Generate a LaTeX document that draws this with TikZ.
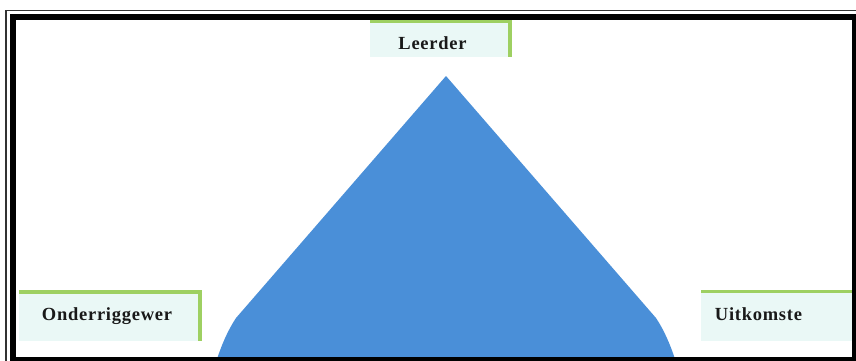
\documentclass[tikz,border=0pt]{standalone}
\usepackage{fontspec}
\newfontfamily\lblfont[LetterSpace=4]{Liberation Serif}
\definecolor{triblue}{RGB}{74,143,216}
\definecolor{boxfill}{RGB}{234,248,246}
\definecolor{boxgreen}{RGB}{158,208,98}
\tikzset{
  lbltext/.style={inner sep=0pt, font=\lblfont\bfseries\fontsize{18.5}{20}\selectfont, text=black!90},
  boxbg/.style={fill=boxfill, draw=none},
  greenline/.style={draw=boxgreen, line width=3.5pt},
}
\begin{document}
\begin{tikzpicture}[x=1pt,y=-1pt]
\useasboundingbox (0,0) rectangle (856,361);
\fill[white] (0,0) rectangle (856,361);
% label backgrounds
\fill[boxbg] (370,21) rectangle (510,57);
\fill[boxbg] (19,292) rectangle (200,341);
\fill[boxbg] (701,292) rectangle (856,341);
% triangle
\fill[triblue] (446,76) -- (656,318) .. controls (664,330) and (670,344) .. (675,359)
  -- (217,359) .. controls (222,344) and (228,330) .. (236,318) -- cycle;
% green borders
\draw[greenline] (370,21.5) -- (510,21.5) -- (510,57);
\draw[greenline] (19,292) -- (200,292) -- (200,341);
\draw[greenline] (701,291.5) -- (856,291.5);
% labels
\node[lbltext] (leerder) at (432.5,43) {Leerder};
\node[lbltext] (onderrig) at (107,316) {Onderriggewer};
\node[lbltext] (uitkomste) at (758.5,314) {Uitkomste};
% frame
\draw[line width=1.5pt, black!80] (6,361) -- (6,10.5) -- (856,10.5);
\draw[line width=6pt, black] (13,361) -- (13,17) -- (856,17);
\draw[line width=5pt, black] (854.5,17) -- (854.5,361);
\draw[line width=5pt, black] (10,359) -- (856,359);
\end{tikzpicture}
\end{document}
